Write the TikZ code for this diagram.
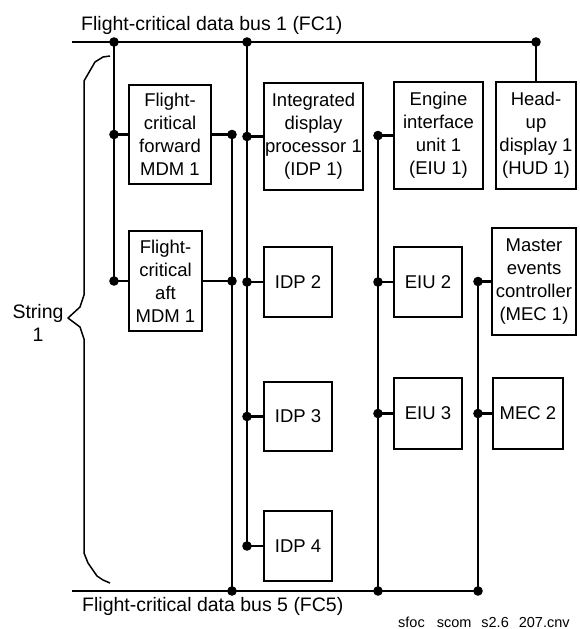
\documentclass[tikz,border=0pt]{standalone}
\usepackage{fontspec}
\setmainfont{Liberation Sans}

\begin{document}
\begin{tikzpicture}[x=1pt, y=-1pt,
    unit/.style={draw, line width=2pt, align=center, inner sep=0pt,
                 font=\fontsize{18.5}{23}\selectfont},
    bus/.style={line width=2.2pt},
    lbl/.style={inner sep=0pt, font=\fontsize{19.5}{23}\selectfont},
    brace/.style={line width=1.5pt, line join=round}
  ]
  \useasboundingbox (0,0) rectangle (579,629);

  \node[unit, minimum width=82, minimum height=99]  (fwd)  at (170,134.5)   {Flight-\\critical\\forward\\MDM 1};
  \node[unit, minimum width=73, minimum height=100] (aft)  at (165.5,281)   {Flight-\\critical\\aft\\MDM 1};
  \node[unit, minimum width=99, minimum height=107] (idp1) at (313.5,136.5) {Integrated\\display\\processor 1\\(IDP 1)};
  \node[unit, minimum width=68, minimum height=70]  (idp2) at (298,282)     {IDP 2};
  \node[unit, minimum width=68, minimum height=69]  (idp3) at (298,416.5)   {IDP 3};
  \node[unit, minimum width=68, minimum height=70]  (idp4) at (298,546)     {IDP 4};
  \node[unit, minimum width=89, minimum height=107] (eiu1) at (438.5,135.5) {Engine\\interface\\unit 1\\(EIU 1)};
  \node[unit, minimum width=68, minimum height=70]  (eiu2) at (428,282)     {EIU 2};
  \node[unit, minimum width=68, minimum height=71]  (eiu3) at (428,413.5)   {EIU 3};
  \node[unit, minimum width=80, minimum height=107] (hud)  at (536,135.5)   {Head-\\up\\display 1\\(HUD 1)};
  \node[unit, minimum width=84, minimum height=107] (mec1) at (534,281.5)   {Master\\events\\controller\\(MEC 1)};
  \node[unit, minimum width=70, minimum height=71]  (mec2) at (528,413.5)   {MEC 2};

  % bus ends and drop lines
  \coordinate (fc1w) at (72,42);
  \coordinate (fc1e) at (536,42);
  \coordinate (fc5w) at (72,591);
  \coordinate (fc5e) at (478,591);
  \coordinate (v1) at (114,42);
  \coordinate (v2) at (232,591);
  \coordinate (v3) at (247,42);
  \coordinate (v4) at (378,591);
  \coordinate (v5) at (478,591);

  \coordinate (fwdL)  at (fwd.west -| v1);
  \coordinate (aftL)  at (aft.west -| v1);
  \coordinate (fwdR)  at (fwd.east -| v2);
  \coordinate (aftR)  at (aft.east -| v2);
  \coordinate (idp1L) at (idp1.west -| v3);
  \coordinate (idp2L) at (idp2.west -| v3);
  \coordinate (idp3L) at (idp3.west -| v3);
  \coordinate (idp4L) at (idp4.west -| v3);
  \coordinate (eiu1L) at (eiu1.west -| v4);
  \coordinate (eiu2L) at (eiu2.west -| v4);
  \coordinate (eiu3L) at (eiu3.west -| v4);
  \coordinate (mec1L) at (mec1.west -| v5);
  \coordinate (mec2L) at (mec2.west -| v5);

  \draw[bus] (fc1w) -- (fc1e);
  \draw[bus] (fc5w) -- (fc5e);
  \draw[bus] (fc1e) -- (hud);
  \draw[bus] (v1) -- (aftL);
  \draw[bus] (fwdR) -- (v2);
  \draw[bus] (v3) -- (idp4L);
  \draw[bus] (eiu1L) -- (v4);
  \draw[bus] (mec1L) -- (v5);

  \foreach \n/\j in {fwd/fwdL, aft/aftL, fwd/fwdR, aft/aftR,
                     idp1/idp1L, idp2/idp2L, idp3/idp3L, idp4/idp4L,
                     eiu1/eiu1L, eiu2/eiu2L, eiu3/eiu3L, mec1/mec1L, mec2/mec2L}
    \draw[bus] (\j) -- (\n);

  \foreach \j in {v1, fwdL, aftL, fwdR, aftR, v2, v3, idp1L, idp2L, idp3L, idp4L,
                  eiu1L, eiu2L, eiu3L, v4, mec1L, mec2L, v5, fc1e}
    \fill (\j) circle (4.8pt);

  % string brace
  \draw[brace] (110,56) -- (103,57) -- (95,62) -- (84,81) -- (84,295)
    -- (80,307) -- (68,318) -- (80,327) -- (84,339) -- (84,553)
    -- (88,563) -- (97,576) -- (103,580) -- (110,583);

  \node[lbl, align=center] (str) at (38,323) {String\\1};
  \node[lbl, anchor=base west] (fc1lbl) at (81,30)  {Flight-critical data bus 1 (FC1)};
  \node[lbl, anchor=base west] (fc5lbl) at (82,611) {Flight-critical data bus 5 (FC5)};
  \node[inner sep=0pt, anchor=base west, font=\fontsize{14.5}{16}\selectfont] (tag) at (398,627)
    {sfoc\hspace{12pt}scom\hspace{10pt}s2.6\hspace{10pt}207.cnv};
\end{tikzpicture}
\end{document}
